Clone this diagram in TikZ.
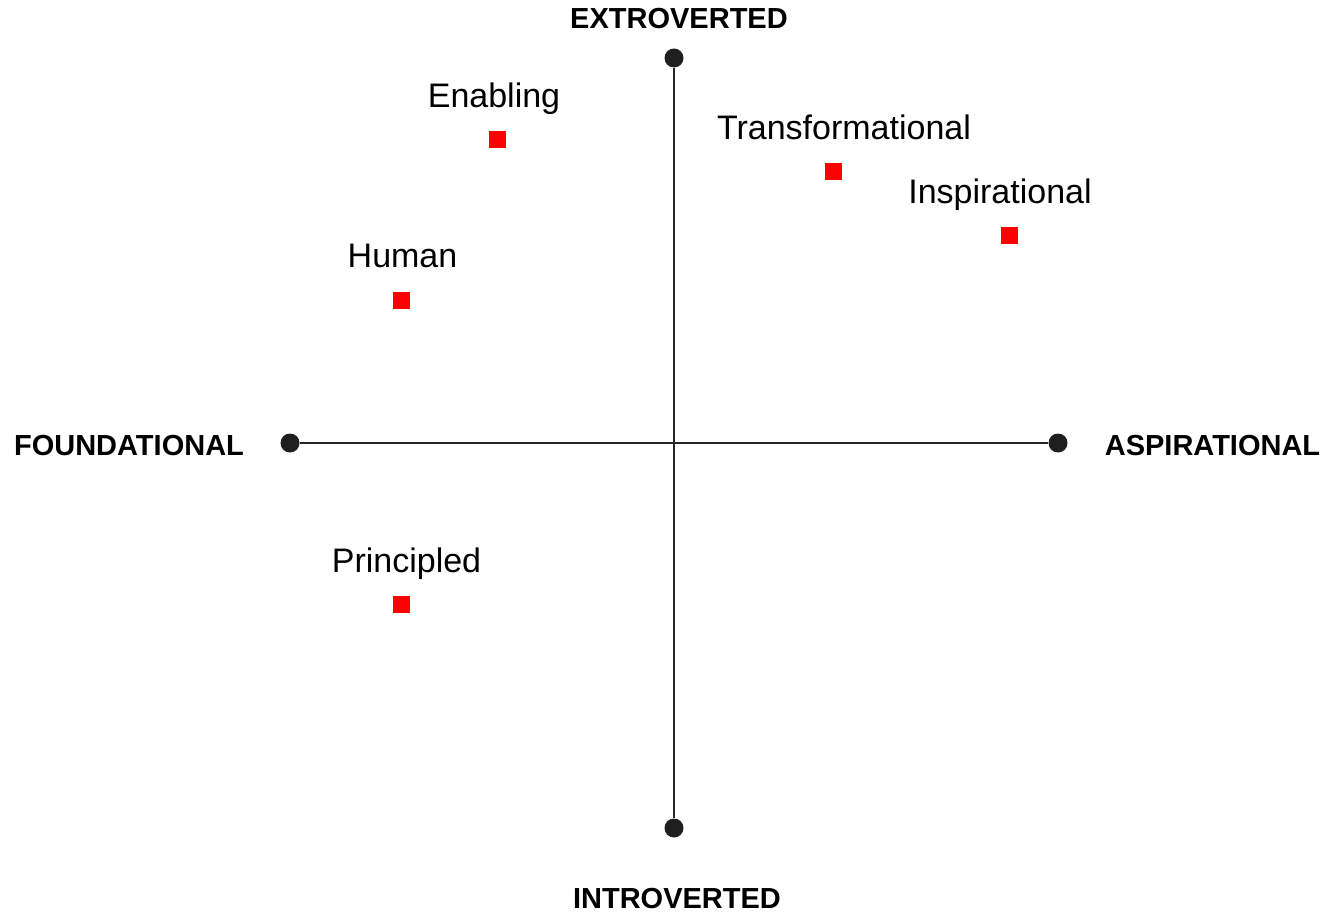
\documentclass[tikz,border=0pt]{standalone}
\usepackage{fontspec}
\setmainfont{Liberation Sans}
\begin{document}
\begin{tikzpicture}[x=1pt,y=-1pt,
  enddot/.style={circle,fill=black!88,inner sep=0pt,minimum size=19pt},
  axis/.style={draw=black!85,line width=1.8pt},
  marker/.style={rectangle,fill=red,inner sep=0pt,minimum size=17pt},
  lbl/.style={anchor=base,inner sep=0pt,font=\fontsize{34}{40}\selectfont},
  axlbl/.style={anchor=base,inner sep=0pt,font=\fontsize{29}{34}\selectfont\bfseries}]
\useasboundingbox (0,0) rectangle (1332,917);
\node[enddot] (top) at (674,58) {};
\node[enddot] (bot) at (674,828) {};
\node[enddot] (left) at (290,443) {};
\node[enddot] (right) at (1058,443) {};
\draw[axis] (top) -- (bot);
\draw[axis] (left) -- (right);
\node[axlbl] (ext) at (679,29) {EXTROVERTED};
\node[axlbl] (int) at (677,908) {INTROVERTED};
\node[axlbl] (fnd) at (129,455) {FOUNDATIONAL};
\node[axlbl] (asp) at (1212.5,455) {ASPIRATIONAL};
\node[marker] (mE) at (497.5,140) {};
\node[marker] (mT) at (833,172) {};
\node[marker] (mI) at (1009,236) {};
\node[marker] (mH) at (401,300) {};
\node[marker] (mP) at (401,604) {};
\node[lbl] (tE) at (494,108) {Enabling};
\node[lbl] (tT) at (844,140) {Transformational};
\node[lbl] (tI) at (1000,204) {Inspirational};
\node[lbl] (tH) at (402.5,268) {Human};
\node[lbl] (tP) at (406.5,572) {Principled};
\end{tikzpicture}
\end{document}
